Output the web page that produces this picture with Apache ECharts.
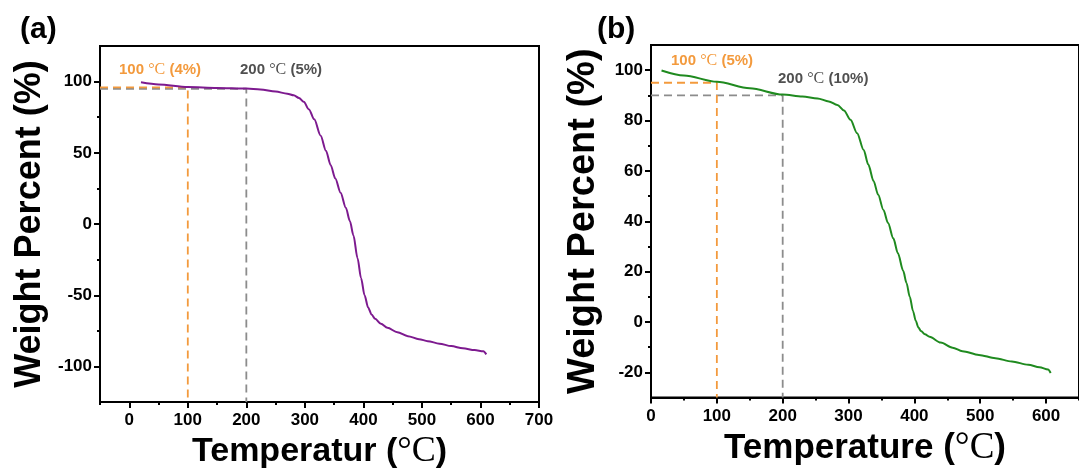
<!DOCTYPE html>
<html>
<head>
<meta charset="utf-8">
<script src="https://cdn.jsdelivr.net/npm/echarts@6/dist/echarts.min.js"></script>
<style>
  html, body { margin: 0; padding: 0; background: #fff; }
  #chart { width: 1079px; height: 475px; }
</style>
</head>
<body>
<div id="chart"></div>
<script>
// ---- Panel (a): TGA curve ----
const aTemp = [20, 50, 100, 150, 200, 224, 250, 270, 281, 290, 298, 307, 316, 327, 336, 344, 352, 361, 370, 377, 383, 390, 396, 402, 408, 414, 420, 430, 441, 458, 476, 495, 510, 530, 550, 570, 590, 605, 610];
const aWeight = [99.5, 98, 96.2, 95.6, 95.1, 94.5, 93, 91.5, 90.4, 88.5, 85.8, 80.5, 73.5, 62, 51.5, 41.5, 32, 22, 11.5, 2, -8, -24, -38, -50, -58.5, -63.5, -66.5, -70, -72.8, -76, -78.7, -80.8, -82.2, -84, -85.7, -87.2, -88.5, -89.3, -91.5];
const aMarkTemp = [100, 200];
const aMarkLoss = [4, 5];
const aXTicks = [0, 100, 200, 300, 400, 500, 600, 700];
const aXMinor = [-50, 50, 150, 250, 350, 450, 550, 650];
const aYTicks = [-100, -50, 0, 50, 100];
const aYMinor = [-75, -25, 25, 75];

// ---- Panel (b): TGA curve ----
const bTemp = [16, 50, 100, 150, 200, 230, 253, 270, 283, 293, 303, 313, 323, 330, 338, 345, 353, 360, 368, 375, 383, 388, 393, 398, 402, 406, 410, 416, 423, 440, 458, 473, 498, 523, 548, 573, 590, 603, 607];
const bWeight = [99.9, 97.9, 95.4, 92.8, 90.3, 89.5, 88.8, 87.6, 86.2, 84, 80.3, 75, 68.3, 62.5, 56, 50.5, 44.5, 39.3, 33.2, 27.3, 20.3, 15.5, 10, 4.3, 0.5, -2.2, -3.6, -4.9, -5.9, -8.2, -10.2, -11.6, -13.1, -14.4, -15.7, -17, -18, -18.9, -20.3];
const bMarkTemp = [100, 200];
const bMarkLoss = [5, 10];
const bXTicks = [0, 100, 200, 300, 400, 500, 600];
const bXMinor = [50, 150, 250, 350, 450, 550, 650];
const bYTicks = [-20, 0, 20, 40, 60, 80, 100];
const bYMinor = [-10, 10, 30, 50, 70, 90];

const FONT = '"Liberation Sans", Arial, sans-serif';
const SERIF = '"Liberation Serif", "Times New Roman", serif';
const ORANGE = '#f39a3d';
const GRAY = '#8c8c8c';
const GRAY_TEXT = '#505050';

const chart = echarts.init(document.getElementById('chart'));

function zip(xs, ys) { return xs.map((x, i) => [x, ys[i]]); }

function majorX(grid, min, max, ticks, name, nameSize) {
  return {
    type: 'value', gridIndex: grid, position: 'bottom', min: min, max: max,
    axisLine: { show: true, onZero: false, lineStyle: { color: '#000', width: 2 } },
    axisTick: { show: true, inside: false, length: 6, customValues: ticks, lineStyle: { color: '#000', width: 2 } },
    axisLabel: { show: true, customValues: ticks, margin: 10, color: '#000', fontFamily: FONT, fontWeight: 'bold', fontSize: 17 },
    splitLine: { show: false },
    name: name, nameLocation: 'middle', nameGap: 28,
    nameTextStyle: {
      color: '#000', fontFamily: FONT, fontWeight: 'bold', fontSize: nameSize,
      rich: { s: { fontFamily: SERIF, fontWeight: 'normal', fontSize: nameSize + 2, color: '#000' } }
    }
  };
}
function minorX(grid, min, max, ticks) {
  return {
    type: 'value', gridIndex: grid, position: 'bottom', min: min, max: max,
    axisLine: { show: false, onZero: false },
    axisTick: { show: true, inside: false, length: 3, customValues: ticks, lineStyle: { color: '#000', width: 2 } },
    axisLabel: { show: false }, splitLine: { show: false }
  };
}
function majorY(grid, min, max, ticks, name, nameSize, gap) {
  return {
    type: 'value', gridIndex: grid, position: 'left', min: min, max: max,
    axisLine: { show: true, onZero: false, lineStyle: { color: '#000', width: 2 } },
    axisTick: { show: true, inside: false, length: 6, customValues: ticks, lineStyle: { color: '#000', width: 2 } },
    axisLabel: { show: true, customValues: ticks, margin: 8, color: '#000', fontFamily: FONT, fontWeight: 'bold', fontSize: 17 },
    splitLine: { show: false },
    name: name, nameLocation: 'middle', nameGap: gap, nameRotate: 90,
    nameTextStyle: { color: '#000', fontFamily: FONT, fontWeight: 'bold', fontSize: nameSize }
  };
}
function minorY(grid, min, max, ticks) {
  return {
    type: 'value', gridIndex: grid, position: 'left', min: min, max: max,
    axisLine: { show: false, onZero: false },
    axisTick: { show: true, inside: false, length: 3, customValues: ticks, lineStyle: { color: '#000', width: 2 } },
    axisLabel: { show: false }, splitLine: { show: false }
  };
}

// Dashed guide: horizontal from the y axis to the temperature, then down to the x axis
function guide(xi, yi, xmin, ymin, t, w, color) {
  return {
    type: 'line', xAxisIndex: xi, yAxisIndex: yi, symbol: 'none', silent: true,
    lineStyle: { color: color, width: 1.8, type: [8, 5] },
    data: [[xmin, w], [t, w], [t, ymin]], z: 1
  };
}

const series = [];
// panel (a) guides (gray under orange)
series.push(guide(0, 0, -50, -125, aMarkTemp[1], 100 - aMarkLoss[1], GRAY));
series.push(guide(0, 0, -50, -125, aMarkTemp[0], 100 - aMarkLoss[0], ORANGE));
series.push({
  type: 'line', xAxisIndex: 0, yAxisIndex: 0, symbol: 'none', smooth: 0.3, smoothMonotone: 'x',
  lineStyle: { color: '#7d1a8f', width: 2 }, data: zip(aTemp, aWeight), z: 3
});
// panel (b) guides
series.push(guide(2, 2, 0, -30, bMarkTemp[1], 100 - bMarkLoss[1], GRAY));
series.push(guide(2, 2, 0, -30, bMarkTemp[0], 100 - bMarkLoss[0], ORANGE));
series.push({
  type: 'line', xAxisIndex: 2, yAxisIndex: 2, symbol: 'none', smooth: 0.3, smoothMonotone: 'x',
  lineStyle: { color: '#1f8a1f', width: 2 }, data: zip(bTemp, bWeight), z: 3
});

function note(x, y, t, loss, color) {
  return {
    type: 'text', x: x, y: y, z: 10,
    style: {
      text: t + ' {s|°C} (' + loss + '%)',
      fill: color, font: 'bold 15px ' + FONT, textVerticalAlign: 'middle',
      rich: { s: { fontFamily: SERIF, fontWeight: 'normal', fontSize: 16, fill: color } }
    }
  };
}

chart.setOption({
  animation: false,
  backgroundColor: '#ffffff',
  grid: [
    { left: 100, top: 46, width: 439, height: 357, show: true, borderColor: '#000', borderWidth: 2, containLabel: false },
    { left: 651, top: 45, width: 436, height: 352.5, show: true, borderColor: '#000', borderWidth: 2, containLabel: false }
  ],
  xAxis: [
    majorX(0, -50, 700, aXTicks, 'Temperatur ({s|°C})', 34),
    minorX(0, -50, 700, aXMinor),
    majorX(1, 0, 650, bXTicks, 'Temperature ({s|°C})', 35),
    minorX(1, 0, 650, bXMinor)
  ],
  yAxis: [
    majorY(0, -125, 125, aYTicks, 'Weight Percent (%)', 36, 52),
    minorY(0, -125, 125, aYMinor),
    majorY(1, -30, 110, bYTicks, 'Weight Percent (%)', 38, 48),
    minorY(1, -30, 110, bYMinor)
  ],
  series: series,
  graphic: [
    { type: 'text', x: 20, y: 30, style: { text: '(a)', fill: '#000', font: 'bold 30px ' + FONT, textVerticalAlign: 'middle' } },
    { type: 'text', x: 597, y: 30, style: { text: '(b)', fill: '#000', font: 'bold 30px ' + FONT, textVerticalAlign: 'middle' } },
    note(119, 70, aMarkTemp[0], aMarkLoss[0], ORANGE),
    note(240, 70, aMarkTemp[1], aMarkLoss[1], GRAY_TEXT),
    note(671, 61, bMarkTemp[0], bMarkLoss[0], ORANGE),
    note(778, 79, bMarkTemp[1], bMarkLoss[1], GRAY_TEXT)
  ]
});
</script>
</body>
</html>
